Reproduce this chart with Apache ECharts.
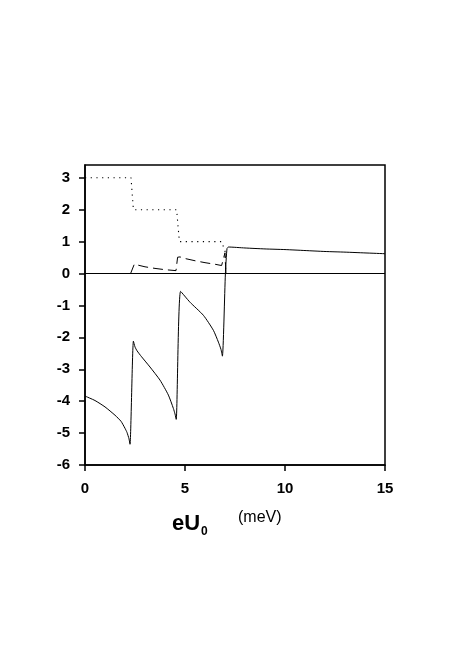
<!DOCTYPE html>
<html>
<head>
<meta charset="utf-8">
<script src="https://cdn.jsdelivr.net/npm/echarts@6/dist/echarts.min.js"></script>
<style>
html,body{margin:0;padding:0;background:#fff;}
#chart{width:466px;height:667px;}
</style>
</head>
<body>
<div id="chart"></div>
<script>
// Solid curve
const solidX = [0, 0.5, 1.0, 1.5, 1.8, 2.0, 2.1, 2.2, 2.25, 2.42, 2.5, 2.6, 2.83, 3.25, 3.75, 4.17, 4.42, 4.5, 4.56, 4.78, 5.25, 5.92, 6.42, 6.67, 6.8, 6.87, 7.02, 7.1, 7.17, 8, 9, 10, 11, 12, 13, 14, 15];
const solidY = [-3.84, -3.98, -4.18, -4.44, -4.63, -4.85, -4.98, -5.18, -5.35, -2.12, -2.3, -2.42, -2.61, -2.93, -3.34, -3.81, -4.23, -4.4, -4.57, -0.56, -0.9, -1.31, -1.78, -2.15, -2.38, -2.59, 0, 0.78, 0.83, 0.8, 0.77, 0.75, 0.72, 0.69, 0.67, 0.645, 0.62];
// Dotted steps
const dottedX = [0, 2.3, 2.42, 4.58, 4.72, 6.83, 7.0, 7.04, 15];
const dottedY = [3, 3, 2, 2, 1, 1, 0.7, 0, 0];
// Dashed curve
const dashedX = [0, 2.28, 2.47, 2.6, 3.0, 3.5, 4.0, 4.55, 4.63, 4.75, 5.0, 5.5, 6.0, 6.5, 6.83, 7.0, 7.05, 15];
const dashedY = [0, 0, 0.30, 0.27, 0.21, 0.16, 0.12, 0.09, 0.51, 0.52, 0.47, 0.40, 0.34, 0.29, 0.25, 0.65, 0, 0];
// Axis ticks
const xTicks = [0, 5, 10, 15];
const yTicks = [-6, -5, -4, -3, -2, -1, 0, 1, 2, 3];

const pairs = (xs, ys) => xs.map((x, i) => [x, ys[i]]);
const font = 'Arial, "Liberation Sans", Helvetica, sans-serif';

const chart = echarts.init(document.getElementById('chart'), null, {renderer: 'canvas'});
chart.setOption({
  animation: false,
  backgroundColor: '#fff',
  grid: {left: 85, right: 81, top: 165, bottom: 202, show: true, borderColor: '#000', borderWidth: 1.5, backgroundColor: 'transparent'},
  xAxis: {
    type: 'value', min: 0, max: 15, interval: 5,
    axisLine: {onZero: false, lineStyle: {color: '#000', width: 1.5}},
    axisTick: {show: true, inside: false, length: 6, lineStyle: {color: '#000', width: 1.5}, customValues: xTicks},
    axisLabel: {color: '#000', fontFamily: font, fontWeight: 'bold', fontSize: 15, margin: 16, customValues: xTicks},
    splitLine: {show: false}
  },
  yAxis: {
    type: 'value', min: -6, max: 3.4, interval: 1,
    axisLine: {show: true, onZero: false, lineStyle: {color: '#000', width: 1.5}},
    axisTick: {show: true, inside: false, length: 6, lineStyle: {color: '#000', width: 1.5}, customValues: yTicks},
    axisLabel: {color: '#000', fontFamily: font, fontWeight: 'bold', fontSize: 15, margin: 15, customValues: yTicks},
    splitLine: {show: false}
  },
  series: [
    {
      type: 'line', data: pairs(dottedX, dottedY), showSymbol: false, symbol: 'none',
      lineStyle: {color: '#000', width: 1.1, type: [1.2, 4.5]}, z: 3
    },
    {
      type: 'line', data: pairs(dashedX, dashedY), showSymbol: false, symbol: 'none',
      lineStyle: {color: '#000', width: 1, type: [10, 5]}, z: 3
    },
    {
      type: 'line', data: pairs(solidX, solidY), showSymbol: false, symbol: 'none', smooth: 0.2,
      lineStyle: {color: '#000', width: 1}, z: 4,
      markLine: {silent: true, symbol: 'none', label: {show: false},
        lineStyle: {color: '#000', width: 1.2, type: 'solid'}, data: [{yAxis: 0}]}
    }
  ],
  graphic: [
    {type: 'text', left: 172, top: 513, style: {text: 'eU', font: 'bold 22px ' + font, fill: '#000'}},
    {type: 'text', left: 201, top: 526, style: {text: '0', font: 'bold 12px ' + font, fill: '#000'}},
    {type: 'text', left: 238, top: 510, style: {text: '(meV)', font: '16px ' + font, fill: '#000'}}
  ]
});
</script>
</body>
</html>
